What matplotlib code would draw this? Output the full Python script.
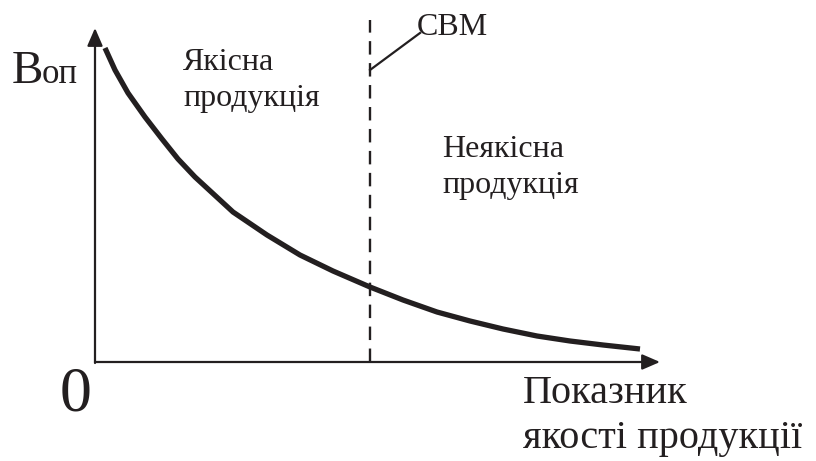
import matplotlib
matplotlib.use("Agg")
import matplotlib.pyplot as plt

plt.rcParams['font.family'] = ['Liberation Serif', 'DejaVu Serif']

# Крива Воп (в пікселях від початку координат)
curve_x = [10, 20, 33, 50, 67, 83, 100, 138, 172, 205, 238, 275,
           308, 342, 375, 408, 442, 475, 508, 545]
curve_y = [314, 292, 269, 245, 223, 203, 185, 150, 127, 107, 91, 75,
           62, 50, 41, 33, 26, 21, 17, 13]

cbm_x = 275          # межа СВМ
x_axis_end = 565
y_axis_end = 334
dash_top = 342

INK = "#231f20"

fig = plt.figure(figsize=(8.16, 4.61), dpi=100, facecolor="white")
ax = fig.add_axes([0, 0, 1, 1])
ax.set_xlim(-95, 721)
ax.set_ylim(-99, 362)
ax.axis("off")

# осі зі стрілками
arrow = dict(arrowstyle="-|>,head_length=0.6,head_width=0.26", color=INK,
             lw=1.6, shrinkA=0, shrinkB=0, mutation_scale=18)
ax.annotate("", xy=(x_axis_end, 0), xytext=(0, 0), arrowprops=arrow)
ax.annotate("", xy=(0, y_axis_end), xytext=(0, -1), arrowprops=arrow)

# крива
ax.plot(curve_x, curve_y, color=INK, lw=3.8, solid_capstyle="butt",
        solid_joinstyle="round")

# вертикальна межа СВМ
ax.plot([cbm_x, cbm_x], [0, dash_top], color=INK, lw=1.7,
        linestyle=(0, (5.7, 3.6)))
ax.plot([cbm_x, cbm_x + 50], [292, 329], color=INK, lw=1.6)

ax.text(cbm_x + 47, 327, "CBM", fontsize=23, color=INK, va="baseline")

ax.text(-83, 279, "B", fontsize=34, color=INK, va="baseline")
ax.text(-53, 279, "оп", fontsize=25, color=INK, va="baseline")

ax.text(-35, -48, "0", fontsize=46, color=INK, va="baseline")

ax.text(88, 292, "Якісна", fontsize=23, color=INK, va="baseline")
ax.text(88, 256, "продукція", fontsize=23, color=INK, va="baseline")

ax.text(347, 205, "Неякісна", fontsize=23, color=INK, va="baseline")
ax.text(347, 169, "продукція", fontsize=23, color=INK, va="baseline")

ax.text(428, -41, "Показник", fontsize=29, color=INK, va="baseline")
ax.text(428, -86, "якості продукції", fontsize=29, color=INK, va="baseline")

fig.savefig("out.png", dpi=100, facecolor="white")
